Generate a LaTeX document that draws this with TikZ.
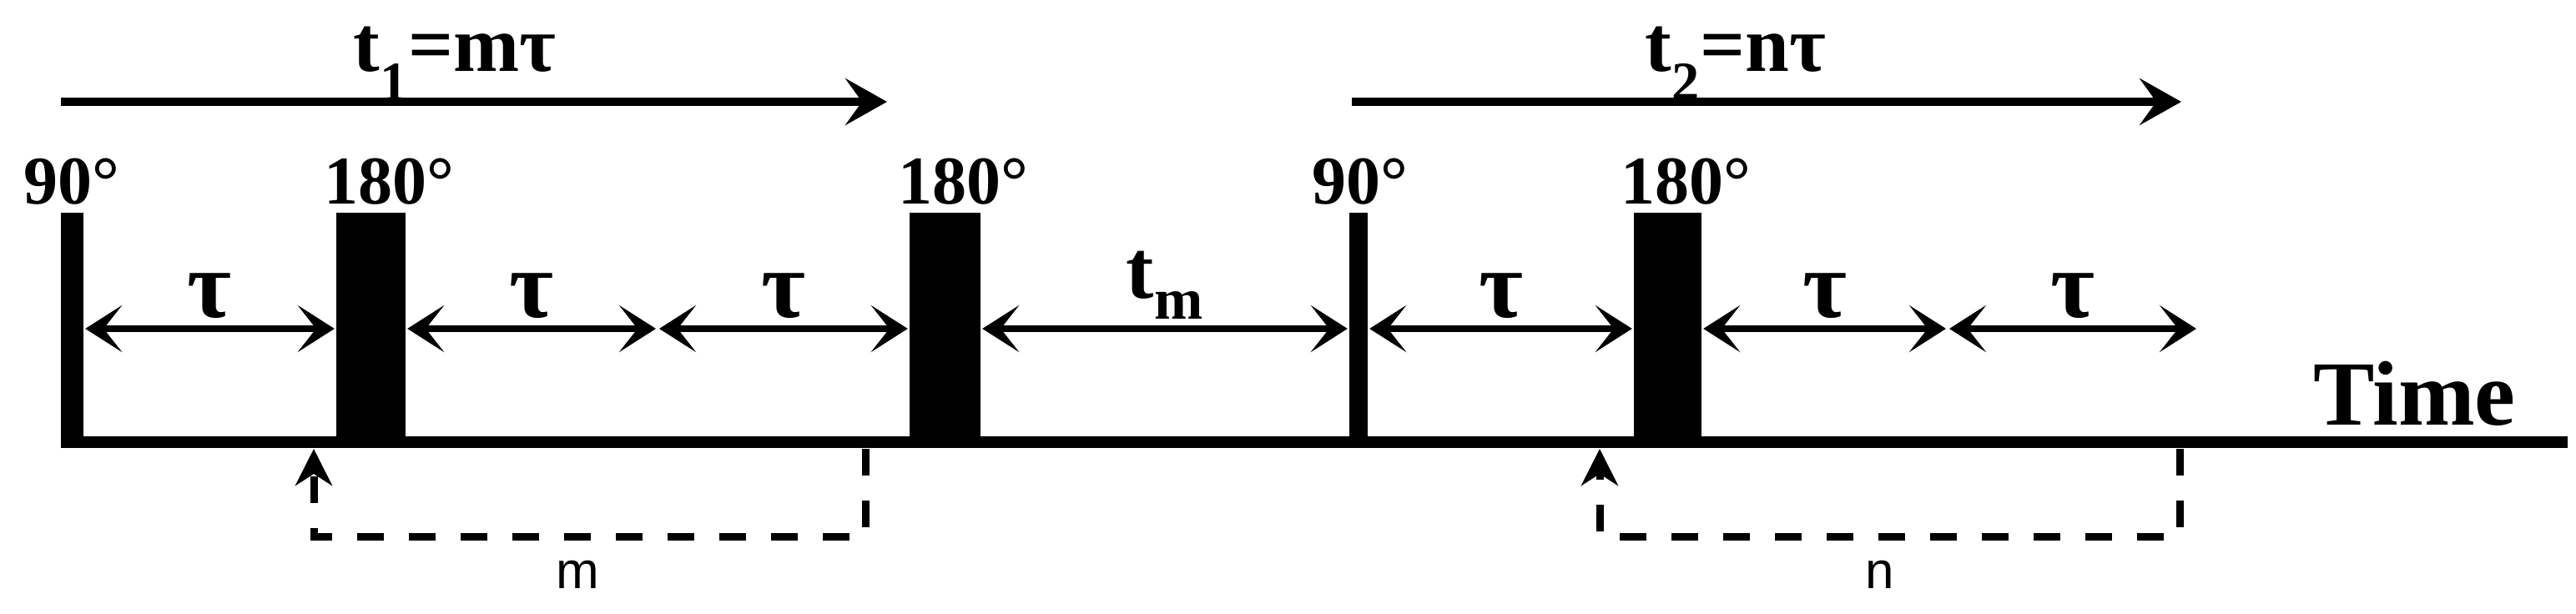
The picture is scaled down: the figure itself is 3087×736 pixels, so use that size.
\documentclass[tikz,border=0pt]{standalone}
\usepackage{fontspec}
\setmainfont{Liberation Serif}
\newfontfamily\sansf{Liberation Sans}
\usetikzlibrary{arrows.meta}
\begin{document}
\begin{tikzpicture}[x=1pt,y=-1pt,
  pulse/.style={fill=black,inner sep=0pt,anchor=north},
  deg/.style={font=\fontsize{82}{90}\selectfont\bfseries,anchor=base,inner sep=0pt},
  span/.style={line width=8pt,{Stealth[length=44pt,width=56pt,inset=22pt]}-{Stealth[length=44pt,width=56pt,inset=22pt]},shorten <=2pt,shorten >=2pt},
  tau/.style={font=\fontsize{115}{120}\selectfont\bfseries,above=8pt,inner sep=0pt},
  big/.style={line width=10pt,-{Stealth[length=50pt,width=56pt,inset=20pt]}},
  bigl/.style={font=\fontsize{95}{100}\selectfont\bfseries,anchor=base,inner sep=0pt},
  brk/.style={line width=9pt,dash pattern=on 32pt off 30pt,-{Stealth[length=44pt,width=44pt,inset=14pt]}},
  small/.style={font=\sansf\fontsize{62}{70}\selectfont,anchor=base,inner sep=0pt}]
\useasboundingbox (0,0) rectangle (3087,736);
% baseline
\coordinate (b0) at (73,530);
\coordinate (b1) at (3077,530);
\draw[line width=14pt] (b0) -- (b1);
% pulses
\node[pulse,minimum width=27pt,minimum height=282pt] (p1) at (86.5,255) {};
\node[pulse,minimum width=83pt,minimum height=282pt] (p2) at (444.5,255) {};
\node[pulse,minimum width=85pt,minimum height=282pt] (p3) at (1132.5,255) {};
\node[pulse,minimum width=22pt,minimum height=282pt] (p4) at (1628,255) {};
\node[pulse,minimum width=81pt,minimum height=282pt] (p5) at (1998.5,255) {};
% labels
\node[deg] at (86,244) {90°};
\node[deg] at (466,244) {180°};
\node[deg] at (1154,244) {180°};
\node[deg] at (1630,244) {90°};
\node[deg] at (2020,244) {180°};
\node[font=\fontsize{110}{120}\selectfont\bfseries,anchor=base west,inner sep=0pt] at (2772,509) {Time};
% span arrows
\coordinate (c1) at (788,394);
\coordinate (c2) at (2334,394);
\coordinate (c3) at (2634,394);
\draw[span] (p1.east |- c1) -- node[tau]{τ} (p2.west |- c1);
\draw[span] (p2.east |- c1) -- node[tau]{τ} (c1);
\draw[span] (c1) -- node[tau]{τ} (p3.west |- c1);
\draw[span] (p3.east |- c1) -- node[font=\fontsize{100}{110}\selectfont\bfseries,above=8pt,inner sep=0pt]{t\textsubscript{m}} (p4.west |- c1);
\draw[span] (p4.east |- c1) -- node[tau]{τ} (p5.west |- c1);
\draw[span] (p5.east |- c1) -- node[tau]{τ} (c2);
\draw[span] (c2) -- node[tau]{τ} (c3);
% top arrows
\coordinate (a1) at (73,122);
\coordinate (a2) at (1063,122);
\coordinate (a3) at (1620,122);
\coordinate (a4) at (2614,122);
\draw[big] (a1) -- (a2);
\draw[big] (a3) -- (a4);
\node[bigl] at (545,85) {t\textsubscript{1}=mτ};
\node[bigl] at (2080,85) {t\textsubscript{2}=nτ};
% dashed brackets
\coordinate (m0) at (1037,538);
\coordinate (m1) at (1037,643);
\coordinate (m2) at (376,643);
\coordinate (m3) at (376,538);
\draw[brk] (m0) -- (m1) -- (m2) -- (m3);
\node[small] at (692,705) {m};
\coordinate (n0) at (2612,538);
\coordinate (n1) at (2612,643);
\coordinate (n2) at (1917,643);
\coordinate (n3) at (1917,538);
\draw[brk] (n0) -- (n1) -- (n2) -- (n3);
\node[small] at (2253,705) {n};
\end{tikzpicture}
\end{document}
